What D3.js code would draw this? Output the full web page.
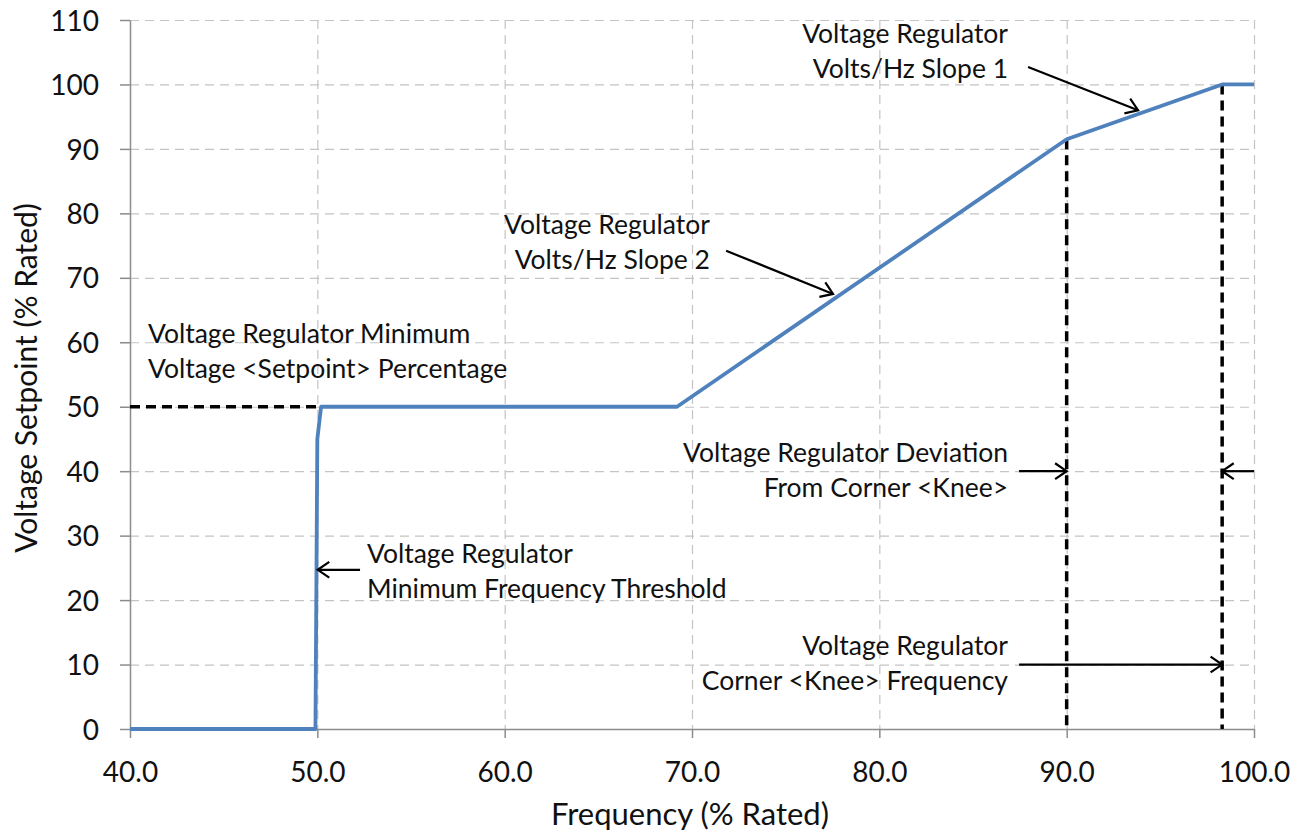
<!DOCTYPE html>
<html>
<head>
<meta charset="utf-8">
<script src="https://cdn.jsdelivr.net/npm/d3@7"></script>
<style>
  html, body { margin: 0; padding: 0; background: #fff; }
  svg { display: block; }
  text { font-family: Lato, "Open Sans", sans-serif; fill: #111; }
</style>
</head>
<body>
<svg id="chart" width="1306" height="834"></svg>
<script>
// ---- data ----
const frequency = [40, 49.9, 50.0, 50.2, 69.2, 90.0, 98.3, 100];
const setpoint  = [0,  0,    45,   50,   50,   91.5, 100,  100];

const xTicks = [40, 50, 60, 70, 80, 90, 100];
const yTicks = [0, 10, 20, 30, 40, 50, 60, 70, 80, 90, 100, 110];

// reference (black dashed) lines: [x1, y1, x2, y2] in data units
const refLines = [
  [40, 50, 50.2, 50],
  [90, 91.5, 90, 0],
  [98.3, 100, 98.3, 0]
];

// annotation texts: anchor point (data units), alignment
const annotations = [
  { lines: ["Voltage Regulator Minimum", "Voltage <Setpoint> Percentage"], x: 40.96, y: 59.9, anchor: "start" },
  { lines: ["Voltage Regulator", "Minimum Frequency Threshold"], x: 52.65, y: 25.8, anchor: "start" },
  { lines: ["Voltage Regulator", "Volts/Hz Slope 2"], x: 70.96, y: 76.8, anchor: "end" },
  { lines: ["Voltage Regulator", "Volts/Hz Slope 1"], x: 86.87, y: 106.4, anchor: "end" },
  { lines: ["Voltage Regulator Deviation", "From Corner <Knee>"], x: 86.87, y: 41.4, anchor: "end" },
  { lines: ["Voltage Regulator", "Corner <Knee> Frequency"], x: 86.87, y: 11.5, anchor: "end" }
];

// arrows: tail -> tip (data units)
const arrows = [
  [87.94, 102.7, 93.81, 96.0],
  [71.82, 74.2, 77.53, 67.5],
  [52.28, 24.7, 50.02, 24.7],
  [87.46, 40, 90, 40],
  [100, 40, 98.3, 40],
  [87.46, 10, 98.3, 10]
];

// ---- layout ----
const svg = d3.select("#chart");
const mL = 130, mR = 1254, mT = 20, mB = 729;

const x = d3.scaleLinear().domain([40, 100]).range([mL, mR]);
const y = d3.scaleLinear().domain([0, 110]).range([mB, mT]);

// grid
const grid = svg.append("g").attr("stroke", "#c4c4c4").attr("stroke-width", 1.2)
  .attr("stroke-dasharray", "9,6");
grid.selectAll("line.h").data(yTicks.filter(d => d > 0)).join("line").attr("class", "h")
  .attr("x1", mL).attr("x2", mR)
  .attr("y1", d => y(d) + 0.5).attr("y2", d => y(d) + 0.5);
grid.selectAll("line.v").data(xTicks.filter(d => d > 40)).join("line").attr("class", "v")
  .attr("y1", mT).attr("y2", mB)
  .attr("x1", d => x(d) + 0.5).attr("x2", d => x(d) + 0.5);

// axes
const xAxis = svg.append("g").attr("transform", `translate(0,${mB})`)
  .call(d3.axisBottom(x).tickValues(xTicks).tickFormat(d3.format(".1f")).tickSize(9).tickSizeOuter(0).tickPadding(24));
const yAxis = svg.append("g").attr("transform", `translate(${mL},0)`)
  .call(d3.axisLeft(y).tickValues(yTicks).tickSize(10).tickSizeOuter(0).tickPadding(21));
[xAxis, yAxis].forEach(a => {
  a.select(".domain").attr("stroke", "#8c8c8c").attr("stroke-width", 1.5);
  a.selectAll(".tick line").attr("stroke", "#8c8c8c").attr("stroke-width", 1.5);
  a.selectAll(".tick text").style("font-family", "Lato, sans-serif").style("font-size", "28px").attr("fill", "#111");
});
xAxis.selectAll(".tick text").attr("dy", "0.71em");
yAxis.selectAll(".tick text").attr("dy", "0.36em");

// dashed reference lines
svg.append("g").selectAll("line").data(refLines).join("line")
  .attr("x1", d => x(d[0])).attr("y1", d => y(d[1]))
  .attr("x2", d => x(d[2])).attr("y2", d => y(d[3]))
  .attr("stroke", "#000").attr("stroke-width", 3.5).attr("stroke-dasharray", "10,6");

// the curve
const pts = frequency.map((f, i) => [f, setpoint[i]]);
svg.append("path").datum(pts)
  .attr("d", d3.line().x(d => x(d[0])).y(d => y(d[1])))
  .attr("fill", "none").attr("stroke", "#4f81bd").attr("stroke-width", 3.8)
  .attr("stroke-linejoin", "round");

// arrows
const ag = svg.append("g").attr("stroke", "#000").attr("stroke-width", 2.2).attr("fill", "none");
arrows.forEach(a => {
  const x1 = x(a[0]), y1 = y(a[1]), x2 = x(a[2]), y2 = y(a[3]);
  const ang = Math.atan2(y2 - y1, x2 - x1);
  const L = 14, W = 0.6;
  ag.append("line").attr("x1", x1).attr("y1", y1).attr("x2", x2).attr("y2", y2);
  ag.append("path").attr("d",
    `M${x2 - L * Math.cos(ang - W)},${y2 - L * Math.sin(ang - W)}L${x2},${y2}L${x2 - L * Math.cos(ang + W)},${y2 - L * Math.sin(ang + W)}`);
});

// annotation text
const lineH = 35;
annotations.forEach(an => {
  const t = svg.append("text").attr("text-anchor", an.anchor)
    .style("font-size", "26.5px");
  an.lines.forEach((ln, i) => {
    t.append("tspan").attr("x", x(an.x)).attr("y", y(an.y) + i * lineH).text(ln);
  });
});

// axis titles
svg.append("text").attr("text-anchor", "middle")
  .attr("x", 690).attr("y", 825)
  .style("font-size", "31px").text("Frequency (% Rated)");
svg.append("text").attr("text-anchor", "middle")
  .attr("transform", "translate(37,378) rotate(-90)")
  .style("font-size", "30px").text("Voltage Setpoint (% Rated)");
</script>
</body>
</html>
